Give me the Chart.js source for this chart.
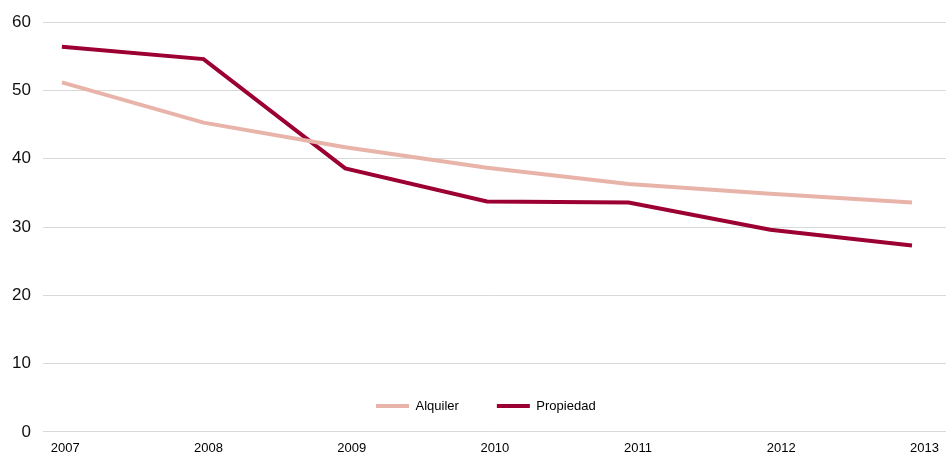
<!DOCTYPE html>
<html>
<head>
<meta charset="utf-8">
<script src="https://cdn.jsdelivr.net/npm/chart.js@4"></script>
<style>
  html, body { margin: 0; padding: 0; background: #fff; }
  #wrap { width: 948px; height: 457px; position: relative; }
</style>
</head>
<body>
<div id="wrap"><canvas id="c" width="948" height="457"></canvas></div>
<script>
const years = [2007, 2008, 2009, 2010, 2011, 2012, 2013];
const alquiler = [51.2, 45.3, 41.7, 38.7, 36.3, 34.9, 33.6];
const propiedad = [56.4, 54.6, 38.6, 33.75, 33.6, 29.6, 27.3];
const seriesNames = ['Alquiler', 'Propiedad'];
const yTicks = [0, 10, 20, 30, 40, 50, 60];

const FONT = "'Liberation Sans', Arial, sans-serif";

const moveLegend = {
  id: 'moveLegend',
  afterLayout(chart) {
    const lg = chart.legend;
    if (!lg) return;
    const pad = lg.options.labels.padding;
    const fs = lg.options.labels.font.size;
    const centerY = 406;
    lg.top = centerY - pad - fs / 2;
    lg.bottom = lg.top + 2 * pad + fs;
    lg.height = lg.bottom - lg.top;
    lg.left = 376 - pad;
    lg.right = 948;
    lg.width = lg.right - lg.left;
  }
};

new Chart(document.getElementById('c'), {
  type: 'line',
  data: {
    datasets: [
      {
        label: seriesNames[0],
        data: years.map((y, i) => ({ x: y, y: alquiler[i] })),
        borderColor: '#E8B4A9',
        backgroundColor: '#E8B4A9',
        borderWidth: 4,
        pointRadius: 0,
        tension: 0
      },
      {
        label: seriesNames[1],
        data: years.map((y, i) => ({ x: y, y: propiedad[i] })),
        borderColor: '#9C0033',
        backgroundColor: '#9C0033',
        borderWidth: 4,
        pointRadius: 0,
        tension: 0
      }
    ]
  },
  options: {
    responsive: false,
    animation: false,
    layout: { padding: { top: 9, right: 2, bottom: -8.6, left: 0 } },
    plugins: {
      tooltip: { enabled: false },
      legend: {
        position: 'bottom',
        align: 'start',
        maxHeight: 0.001,
        labels: {
          usePointStyle: true,
          pointStyle: 'line',
          pointStyleWidth: 33,
          padding: 38,
          color: '#000',
          font: { family: FONT, size: 13 }
        }
      }
    },
    scales: {
      x: {
        type: 'linear',
        display: false,
        min: 2006.866,
        max: 2013.24
      },
      xLabels: {
        type: 'linear',
        position: 'bottom',
        min: 2006.844,
        max: 2013.15,
        afterBuildTicks(scale) { scale.ticks = years.map(v => ({ value: v })); },
        ticks: {
          autoSkip: false,
          maxRotation: 0,
          padding: 9,
          color: '#000',
          font: { family: FONT, size: 13 },
          callback: (v) => String(v)
        },
        grid: { display: false, drawTicks: false },
        border: { display: false }
      },
      y: {
        min: 0,
        max: 60,
        afterBuildTicks(scale) { scale.ticks = yTicks.map(v => ({ value: v })); },
        ticks: {
          padding: 12,
          color: '#111',
          font: { family: FONT, size: 17 }
        },
        grid: { color: '#D9D9D9', lineWidth: 1, drawTicks: false },
        border: { display: false }
      }
    }
  },
  plugins: [moveLegend]
});
</script>
</body>
</html>
